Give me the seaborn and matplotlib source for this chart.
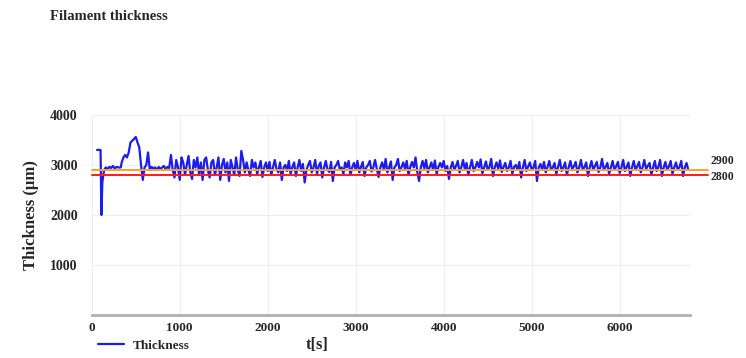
import numpy as np
import matplotlib
matplotlib.use("Agg")
import matplotlib.pyplot as plt
import matplotlib.transforms as mtransforms
from matplotlib.lines import Line2D
import seaborn as sns

# start-up part of the recording (time in s, thickness in um)
t_start = [60, 100, 110, 120, 140, 160, 180, 200, 220, 240, 260, 280, 300, 330,
           340, 360, 380, 400, 420, 440, 470, 500, 520, 540, 560, 580, 600, 620,
           640, 660, 680]
v_start = [3300, 3300, 2000, 2650, 2900, 2950, 2920, 2960, 2940, 2980, 2930, 2960, 2950, 2950,
           3050, 3150, 3200, 3150, 3250, 3450, 3500, 3560, 3450, 3350, 3000, 2700, 2950, 3000,
           3250, 2900, 2960]

# steady part, sampled every 20 s from 700 s
step = 20
v_steady = [
    2930, 2950, 2900, 2960, 2920, 2950, 2980, 2910, 2960, 2940,
    3200, 2900, 2750, 3100, 2950, 2700, 3150, 3050, 2800, 3000,
    3180, 2850, 2720, 3100, 2950, 3150, 2800, 3050, 2700, 3100,
    3150, 2900, 2750, 3050, 3100, 2800, 2950, 3150, 2700, 3000,
    3120, 2850, 3050, 2680, 3100, 2950, 2800, 3150, 2900, 2780,
    3280, 3100, 2850, 3050, 2900, 2780, 3100, 2950, 3050, 2820, 2950, 3080, 2760, 2950, 3050,
    2880, 3060, 2800, 2950, 3100, 2920, 2850, 3050, 2700, 2950, 3000, 2880, 3080, 2820, 2960,
    3050, 2780, 2950, 3100, 2880, 3020, 2650, 2900, 3000, 3080, 2850, 2950, 3100, 2820, 2980,
    3050, 2750, 2950, 3080, 2900, 2860, 3060, 2680, 2950, 3000, 3080, 2900, 2950, 2820, 3050,
    2950, 3080, 2800, 2950, 3040, 2900, 3080, 2850, 2960, 3060, 2780, 2950, 3000, 3080, 2870,
    2950, 3100, 2920, 2760, 2950, 3050, 2900, 3120, 2850, 2950, 3070, 2700, 2950, 3000, 3120,
    2880, 2950, 3050, 2920, 3080, 2800, 2960, 3060, 2950, 3150, 2860, 2680, 2950, 3080, 2930,
    3100, 2850, 2950, 3050, 2900, 3090, 2820, 2960, 3040, 2950, 3080, 2880, 2980, 2720, 2950,
    3060, 2900, 2980, 3080, 2850, 2950, 3100, 2920, 3040, 2800, 2960, 3100, 2880, 2950, 3060,
    2950, 3110, 2830, 2950, 3070, 2900, 2960, 3120, 2780, 2950, 3050, 2920, 3090, 2860, 2960,
    3040, 2880, 2950, 3080, 2820, 2960, 3000, 2900, 3060, 2750, 2950, 3100, 2880, 2970, 3050,
    2900, 2950, 3080, 2680, 2950, 3020, 2900, 3060, 2850, 2960, 3080, 2900, 2950, 3040, 2820,
    2960, 3100, 2880, 2950, 3050, 2800, 2950, 3080, 2920, 2970, 3060, 2850, 2950, 3100, 2900,
    2960, 3050, 2780, 2950, 3080, 2900, 2980, 3060, 2860, 2950, 3120, 2900, 2960, 3040, 2820,
    2950, 3080, 2900, 2970, 3060, 2840, 2950, 3100, 2880, 2960, 3050, 2780, 2950, 3080, 2900,
    2970, 3060, 2850, 2950, 3100, 2920, 2980, 3040, 2800, 2950, 3080, 2880, 2960, 3100, 2780,
    2950, 3060, 2900, 2970, 3080, 2820, 2950, 3050, 2900, 2960, 3080, 2780, 2950, 3040, 2900,
]
t_steady = list(700 + step * np.arange(len(v_steady)))

t = t_start + t_steady
v = v_start + v_steady

limits = [2900, 2800]
limit_colors = ["#f5a623", "#ff1a1a"]
x_ticks = [0, 1000, 2000, 3000, 4000, 5000, 6000]
y_ticks = [1000, 2000, 3000, 4000]

sns.set_style("white")
plt.rcParams['font.family'] = ['Liberation Serif', 'DejaVu Serif']
plt.rcParams['font.weight'] = 'bold'

fig = plt.figure(figsize=(7.46, 3.58), dpi=100)
ax = fig.add_axes([0.123, 0.12, 0.802, 0.559])

sns.lineplot(x=t, y=v, color="#1c1cf0", linewidth=1.6, ax=ax)

for val, c in zip(limits, limit_colors):
    ax.plot([0, 7000], [val, val], color=c, linewidth=1.4, clip_on=False, zorder=3)

trans = mtransforms.blended_transform_factory(ax.transAxes, ax.transData)
ax.text(1.035, 3080, "2900", transform=trans, fontsize=8.5, fontweight='bold', va='center')
ax.text(1.035, 2760, "2800", transform=trans, fontsize=8.5, fontweight='bold', va='center')

ax.set_xlim(0, 6800)
ax.set_ylim(0, 4000)
ax.set_xticks(x_ticks)
ax.set_yticks(y_ticks)
ax.set_xticklabels([str(x) for x in x_ticks], fontsize=9.5, fontweight='bold')
ax.set_yticklabels([str(y) for y in y_ticks], fontsize=10, fontweight='bold')
ax.tick_params(axis='x', length=0, pad=5)
ax.tick_params(axis='y', length=0, pad=10)
ax.grid(True, color="#eeeeee", linewidth=0.8)
for s in ["top", "right", "left"]:
    ax.spines[s].set_visible(False)
ax.spines["bottom"].set_color("#b0b0b0")
ax.spines["bottom"].set_linewidth(2)

ax.set_ylabel("Thickness (µm)", fontsize=12, fontweight='bold', labelpad=8)
ax.set_xlabel("")
fig.text(0.425, 0.035, "t[s]", fontsize=12, fontweight='bold', ha='center', va='center')
fig.text(0.067, 0.955, "Filament thickness", fontsize=10.5, fontweight='bold', va='center')

handle = Line2D([], [], color="#1c1cf0", linewidth=1.6)
fig.legend([handle], ["Thickness"], loc='center left', bbox_to_anchor=(0.115, 0.035),
           frameon=False, prop={'size': 9.5, 'weight': 'bold'}, handlelength=2.0, handletextpad=0.7)

fig.savefig("out.png", dpi=100)
